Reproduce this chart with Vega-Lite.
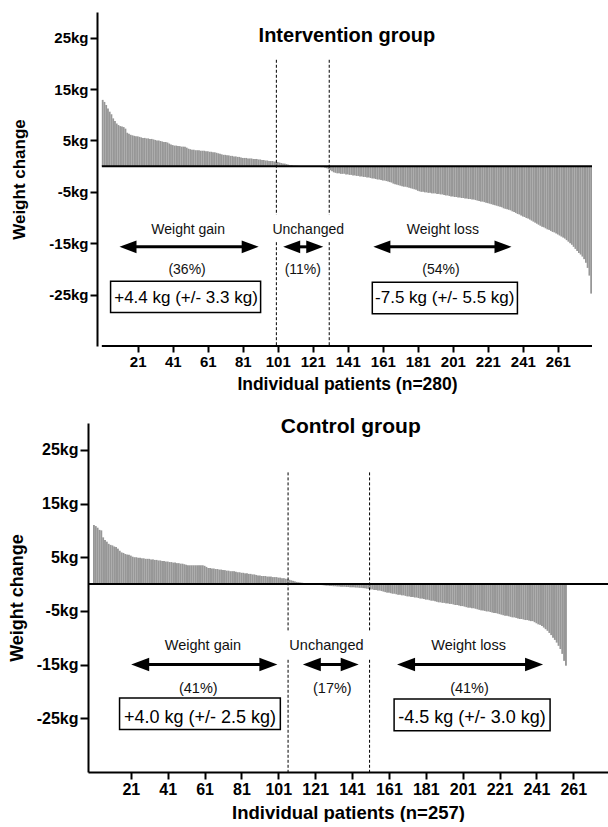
{
"$schema": "https://vega.github.io/schema/vega-lite/v6.json",
"padding": {"left": 8, "top": 12, "right": 0, "bottom": 0},
"spacing": 22,
"config": {"font": "Liberation Sans", "view": {"stroke": null},
 "axis": {"grid": false, "domainColor": "black", "tickColor": "black", "labelColor": "black", "titleColor": "black", "labelFontWeight": "bold", "titleFontWeight": "bold", "domainWidth": 2, "tickWidth": 2, "labelFont": "Liberation Sans", "titleFont": "Liberation Sans"}},
"datasets": {
"top": [{"p":1,"v":12.9},{"p":2,"v":12.5},{"p":3,"v":11.9},{"p":4,"v":11.2},{"p":5,"v":10.6},{"p":6,"v":10.1},{"p":7,"v":9.3},{"p":8,"v":8.8},{"p":9,"v":8.3},{"p":10,"v":8.0},
{"p":11,"v":7.8},{"p":12,"v":7.7},{"p":13,"v":7.6},{"p":14,"v":7.3},{"p":15,"v":6.5},{"p":16,"v":6.3},{"p":17,"v":6.1},{"p":18,"v":6.0},{"p":19,"v":5.9},{"p":20,"v":5.8},
{"p":21,"v":5.8},{"p":22,"v":5.7},{"p":23,"v":5.6},{"p":24,"v":5.5},{"p":25,"v":5.5},{"p":26,"v":5.4},{"p":27,"v":5.4},{"p":28,"v":5.3},{"p":29,"v":5.3},{"p":30,"v":5.2},
{"p":31,"v":5.1},{"p":32,"v":5.0},{"p":33,"v":5.0},{"p":34,"v":4.9},{"p":35,"v":4.8},{"p":36,"v":4.7},{"p":37,"v":4.7},{"p":38,"v":4.6},{"p":39,"v":4.4},{"p":40,"v":4.2},
{"p":41,"v":4.1},{"p":42,"v":4.0},{"p":43,"v":4.0},{"p":44,"v":3.9},{"p":45,"v":3.9},{"p":46,"v":3.8},{"p":47,"v":3.8},{"p":48,"v":3.8},{"p":49,"v":3.6},{"p":50,"v":3.4},
{"p":51,"v":3.3},{"p":52,"v":3.2},{"p":53,"v":3.2},{"p":54,"v":3.1},{"p":55,"v":3.1},{"p":56,"v":3.1},{"p":57,"v":3.0},{"p":58,"v":3.0},{"p":59,"v":3.0},{"p":60,"v":2.9},
{"p":61,"v":2.9},{"p":62,"v":2.8},{"p":63,"v":2.8},{"p":64,"v":2.7},{"p":65,"v":2.7},{"p":66,"v":2.6},{"p":67,"v":2.5},{"p":68,"v":2.4},{"p":69,"v":2.3},{"p":70,"v":2.2},
{"p":71,"v":2.2},{"p":72,"v":2.1},{"p":73,"v":2.1},{"p":74,"v":2.0},{"p":75,"v":2.0},{"p":76,"v":1.9},{"p":77,"v":1.9},{"p":78,"v":1.8},{"p":79,"v":1.8},{"p":80,"v":1.7},
{"p":81,"v":1.6},{"p":82,"v":1.6},{"p":83,"v":1.6},{"p":84,"v":1.5},{"p":85,"v":1.5},{"p":86,"v":1.5},{"p":87,"v":1.4},{"p":88,"v":1.4},{"p":89,"v":1.4},{"p":90,"v":1.3},
{"p":91,"v":1.3},{"p":92,"v":1.2},{"p":93,"v":1.2},{"p":94,"v":1.1},{"p":95,"v":1.1},{"p":96,"v":1.0},{"p":97,"v":1.0},{"p":98,"v":1.0},{"p":99,"v":0.9},{"p":100,"v":0.9},
{"p":101,"v":0.8},{"p":102,"v":0.7},{"p":103,"v":0.6},{"p":104,"v":0.5},{"p":105,"v":0.5},{"p":106,"v":0.4},{"p":107,"v":0.3},{"p":108,"v":0.2},{"p":109,"v":0.2},{"p":110,"v":0.1},
{"p":111,"v":0.1},{"p":112,"v":0.1},{"p":113,"v":0.05},{"p":114,"v":0},{"p":115,"v":0},{"p":116,"v":0},{"p":117,"v":0},{"p":118,"v":0},{"p":119,"v":0},{"p":120,"v":0},
{"p":121,"v":0},{"p":122,"v":0},{"p":123,"v":-0.05},{"p":124,"v":-0.1},{"p":125,"v":-0.1},{"p":126,"v":-0.2},{"p":127,"v":-0.2},{"p":128,"v":-0.3},{"p":129,"v":-0.4},{"p":130,"v":-0.6},
{"p":131,"v":-0.8},{"p":132,"v":-1.0},{"p":133,"v":-1.2},{"p":134,"v":-1.3},{"p":135,"v":-1.4},{"p":136,"v":-1.4},{"p":137,"v":-1.5},{"p":138,"v":-1.5},{"p":139,"v":-1.5},{"p":140,"v":-1.6},
{"p":141,"v":-1.6},{"p":142,"v":-1.7},{"p":143,"v":-1.7},{"p":144,"v":-1.8},{"p":145,"v":-1.8},{"p":146,"v":-1.9},{"p":147,"v":-1.9},{"p":148,"v":-2.0},{"p":149,"v":-2.0},{"p":150,"v":-2.1},
{"p":151,"v":-2.1},{"p":152,"v":-2.2},{"p":153,"v":-2.2},{"p":154,"v":-2.3},{"p":155,"v":-2.4},{"p":156,"v":-2.4},{"p":157,"v":-2.5},{"p":158,"v":-2.6},{"p":159,"v":-2.6},{"p":160,"v":-2.7},
{"p":161,"v":-2.8},{"p":162,"v":-2.8},{"p":163,"v":-2.9},{"p":164,"v":-3.0},{"p":165,"v":-3.1},{"p":166,"v":-3.2},{"p":167,"v":-3.4},{"p":168,"v":-3.5},{"p":169,"v":-3.6},{"p":170,"v":-3.7},
{"p":171,"v":-3.8},{"p":172,"v":-3.9},{"p":173,"v":-4.0},{"p":174,"v":-4.0},{"p":175,"v":-4.1},{"p":176,"v":-4.2},{"p":177,"v":-4.3},{"p":178,"v":-4.4},{"p":179,"v":-4.5},{"p":180,"v":-4.6},
{"p":181,"v":-4.8},{"p":182,"v":-4.9},{"p":183,"v":-5.0},{"p":184,"v":-5.0},{"p":185,"v":-5.1},{"p":186,"v":-5.1},{"p":187,"v":-5.2},{"p":188,"v":-5.2},{"p":189,"v":-5.3},{"p":190,"v":-5.3},
{"p":191,"v":-5.3},{"p":192,"v":-5.4},{"p":193,"v":-5.4},{"p":194,"v":-5.5},{"p":195,"v":-5.5},{"p":196,"v":-5.6},{"p":197,"v":-5.7},{"p":198,"v":-5.7},{"p":199,"v":-5.8},{"p":200,"v":-5.9},
{"p":201,"v":-5.9},{"p":202,"v":-6.0},{"p":203,"v":-6.0},{"p":204,"v":-6.1},{"p":205,"v":-6.1},{"p":206,"v":-6.2},{"p":207,"v":-6.2},{"p":208,"v":-6.3},{"p":209,"v":-6.3},{"p":210,"v":-6.4},
{"p":211,"v":-6.4},{"p":212,"v":-6.5},{"p":213,"v":-6.5},{"p":214,"v":-6.6},{"p":215,"v":-6.7},{"p":216,"v":-6.8},{"p":217,"v":-6.9},{"p":218,"v":-6.9},{"p":219,"v":-7.0},{"p":220,"v":-7.1},
{"p":221,"v":-7.2},{"p":222,"v":-7.3},{"p":223,"v":-7.4},{"p":224,"v":-7.5},{"p":225,"v":-7.6},{"p":226,"v":-7.7},{"p":227,"v":-7.8},{"p":228,"v":-7.9},{"p":229,"v":-8.0},{"p":230,"v":-8.2},
{"p":231,"v":-8.3},{"p":232,"v":-8.4},{"p":233,"v":-8.5},{"p":234,"v":-8.6},{"p":235,"v":-8.8},{"p":236,"v":-8.9},{"p":237,"v":-9.1},{"p":238,"v":-9.3},{"p":239,"v":-9.4},{"p":240,"v":-9.6},
{"p":241,"v":-9.8},{"p":242,"v":-9.9},{"p":243,"v":-10.1},{"p":244,"v":-10.2},{"p":245,"v":-10.4},{"p":246,"v":-10.6},{"p":247,"v":-10.8},{"p":248,"v":-11.0},{"p":249,"v":-11.2},{"p":250,"v":-11.4},
{"p":251,"v":-11.6},{"p":252,"v":-11.8},{"p":253,"v":-11.9},{"p":254,"v":-12.1},{"p":255,"v":-12.3},{"p":256,"v":-12.4},{"p":257,"v":-12.6},{"p":258,"v":-12.8},{"p":259,"v":-12.9},{"p":260,"v":-13.1},
{"p":261,"v":-13.3},{"p":262,"v":-13.5},{"p":263,"v":-13.7},{"p":264,"v":-13.9},{"p":265,"v":-14.1},{"p":266,"v":-14.4},{"p":267,"v":-14.7},{"p":268,"v":-15.0},{"p":269,"v":-15.3},{"p":270,"v":-15.7},
{"p":271,"v":-16.1},{"p":272,"v":-16.5},{"p":273,"v":-16.9},{"p":274,"v":-17.2},{"p":275,"v":-17.6},{"p":276,"v":-18.1},{"p":277,"v":-18.8},{"p":278,"v":-19.8},{"p":279,"v":-21.3},{"p":280,"v":-24.8}],
"bot": [{"p":1,"v":11.0},{"p":2,"v":10.8},{"p":3,"v":10.5},{"p":4,"v":10.1},{"p":5,"v":10.0},{"p":6,"v":8.7},{"p":7,"v":8.2},{"p":8,"v":7.9},{"p":9,"v":7.5},{"p":10,"v":7.3},
{"p":11,"v":7.2},{"p":12,"v":7.0},{"p":13,"v":6.9},{"p":14,"v":6.6},{"p":15,"v":6.2},{"p":16,"v":5.9},{"p":17,"v":5.8},{"p":18,"v":5.6},{"p":19,"v":5.5},{"p":20,"v":5.45},
{"p":21,"v":5.3},{"p":22,"v":5.1},{"p":23,"v":5.0},{"p":24,"v":5.0},{"p":25,"v":4.9},{"p":26,"v":4.9},{"p":27,"v":4.8},{"p":28,"v":4.8},{"p":29,"v":4.7},{"p":30,"v":4.7},
{"p":31,"v":4.7},{"p":32,"v":4.6},{"p":33,"v":4.6},{"p":34,"v":4.5},{"p":35,"v":4.5},{"p":36,"v":4.4},{"p":37,"v":4.4},{"p":38,"v":4.3},{"p":39,"v":4.3},{"p":40,"v":4.2},
{"p":41,"v":4.2},{"p":42,"v":4.1},{"p":43,"v":4.1},{"p":44,"v":4.0},{"p":45,"v":4.0},{"p":46,"v":3.9},{"p":47,"v":3.9},{"p":48,"v":3.8},{"p":49,"v":3.8},{"p":50,"v":3.7},
{"p":51,"v":3.6},{"p":52,"v":3.5},{"p":53,"v":3.5},{"p":54,"v":3.5},{"p":55,"v":3.5},{"p":56,"v":3.5},{"p":57,"v":3.5},{"p":58,"v":3.5},{"p":59,"v":3.5},{"p":60,"v":3.5},
{"p":61,"v":3.4},{"p":62,"v":3.2},{"p":63,"v":3.0},{"p":64,"v":3.0},{"p":65,"v":2.9},{"p":66,"v":2.9},{"p":67,"v":2.8},{"p":68,"v":2.8},{"p":69,"v":2.7},{"p":70,"v":2.7},
{"p":71,"v":2.6},{"p":72,"v":2.6},{"p":73,"v":2.5},{"p":74,"v":2.5},{"p":75,"v":2.4},{"p":76,"v":2.4},{"p":77,"v":2.4},{"p":78,"v":2.3},{"p":79,"v":2.2},{"p":80,"v":2.2},
{"p":81,"v":2.1},{"p":82,"v":2.1},{"p":83,"v":2.0},{"p":84,"v":2.0},{"p":85,"v":1.9},{"p":86,"v":1.9},{"p":87,"v":1.8},{"p":88,"v":1.8},{"p":89,"v":1.7},{"p":90,"v":1.6},
{"p":91,"v":1.6},{"p":92,"v":1.5},{"p":93,"v":1.5},{"p":94,"v":1.5},{"p":95,"v":1.4},{"p":96,"v":1.4},{"p":97,"v":1.4},{"p":98,"v":1.3},{"p":99,"v":1.3},{"p":100,"v":1.3},
{"p":101,"v":1.2},{"p":102,"v":1.2},{"p":103,"v":1.1},{"p":104,"v":1.1},{"p":105,"v":1.0},{"p":106,"v":0.9},{"p":107,"v":0.8},{"p":108,"v":0.7},{"p":109,"v":0.6},{"p":110,"v":0.5},
{"p":111,"v":0.4},{"p":112,"v":0.35},{"p":113,"v":0.3},{"p":114,"v":0.25},{"p":115,"v":0.2},{"p":116,"v":0.15},{"p":117,"v":0.1},{"p":118,"v":0.05},{"p":119,"v":0},{"p":120,"v":0},
{"p":121,"v":0},{"p":122,"v":-0.05},{"p":123,"v":-0.1},{"p":124,"v":-0.15},{"p":125,"v":-0.2},{"p":126,"v":-0.25},{"p":127,"v":-0.3},{"p":128,"v":-0.3},{"p":129,"v":-0.35},{"p":130,"v":-0.35},
{"p":131,"v":-0.4},{"p":132,"v":-0.4},{"p":133,"v":-0.45},{"p":134,"v":-0.45},{"p":135,"v":-0.5},{"p":136,"v":-0.5},{"p":137,"v":-0.5},{"p":138,"v":-0.55},{"p":139,"v":-0.55},{"p":140,"v":-0.6},
{"p":141,"v":-0.6},{"p":142,"v":-0.6},{"p":143,"v":-0.65},{"p":144,"v":-0.65},{"p":145,"v":-0.7},{"p":146,"v":-0.7},{"p":147,"v":-0.75},{"p":148,"v":-0.8},{"p":149,"v":-0.85},{"p":150,"v":-0.9},
{"p":151,"v":-1.0},{"p":152,"v":-1.0},{"p":153,"v":-1.1},{"p":154,"v":-1.1},{"p":155,"v":-1.2},{"p":156,"v":-1.2},{"p":157,"v":-1.3},{"p":158,"v":-1.4},{"p":159,"v":-1.5},{"p":160,"v":-1.6},
{"p":161,"v":-1.6},{"p":162,"v":-1.7},{"p":163,"v":-1.8},{"p":164,"v":-1.8},{"p":165,"v":-1.9},{"p":166,"v":-2.0},{"p":167,"v":-2.0},{"p":168,"v":-2.1},{"p":169,"v":-2.1},{"p":170,"v":-2.2},
{"p":171,"v":-2.3},{"p":172,"v":-2.3},{"p":173,"v":-2.4},{"p":174,"v":-2.4},{"p":175,"v":-2.5},{"p":176,"v":-2.5},{"p":177,"v":-2.6},{"p":178,"v":-2.7},{"p":179,"v":-2.7},{"p":180,"v":-2.8},
{"p":181,"v":-2.9},{"p":182,"v":-2.9},{"p":183,"v":-3.0},{"p":184,"v":-3.1},{"p":185,"v":-3.1},{"p":186,"v":-3.2},{"p":187,"v":-3.3},{"p":188,"v":-3.4},{"p":189,"v":-3.4},{"p":190,"v":-3.5},
{"p":191,"v":-3.5},{"p":192,"v":-3.6},{"p":193,"v":-3.6},{"p":194,"v":-3.7},{"p":195,"v":-3.7},{"p":196,"v":-3.8},{"p":197,"v":-3.9},{"p":198,"v":-3.9},{"p":199,"v":-4.0},{"p":200,"v":-4.1},
{"p":201,"v":-4.1},{"p":202,"v":-4.2},{"p":203,"v":-4.3},{"p":204,"v":-4.4},{"p":205,"v":-4.4},{"p":206,"v":-4.5},{"p":207,"v":-4.5},{"p":208,"v":-4.6},{"p":209,"v":-4.7},{"p":210,"v":-4.8},
{"p":211,"v":-4.9},{"p":212,"v":-4.9},{"p":213,"v":-5.0},{"p":214,"v":-5.1},{"p":215,"v":-5.1},{"p":216,"v":-5.2},{"p":217,"v":-5.3},{"p":218,"v":-5.4},{"p":219,"v":-5.4},{"p":220,"v":-5.5},
{"p":221,"v":-5.6},{"p":222,"v":-5.7},{"p":223,"v":-5.8},{"p":224,"v":-5.9},{"p":225,"v":-5.9},{"p":226,"v":-6.0},{"p":227,"v":-6.1},{"p":228,"v":-6.2},{"p":229,"v":-6.2},{"p":230,"v":-6.3},
{"p":231,"v":-6.4},{"p":232,"v":-6.5},{"p":233,"v":-6.5},{"p":234,"v":-6.6},{"p":235,"v":-6.7},{"p":236,"v":-6.7},{"p":237,"v":-6.8},{"p":238,"v":-6.9},{"p":239,"v":-6.9},{"p":240,"v":-7.1},
{"p":241,"v":-7.3},{"p":242,"v":-7.5},{"p":243,"v":-7.6},{"p":244,"v":-7.8},{"p":245,"v":-8.1},{"p":246,"v":-8.4},{"p":247,"v":-8.7},{"p":248,"v":-9.1},{"p":249,"v":-9.5},{"p":250,"v":-10.0},
{"p":251,"v":-10.4},{"p":252,"v":-10.9},{"p":253,"v":-11.5},{"p":254,"v":-12.1},{"p":255,"v":-13.0},{"p":256,"v":-14.3},{"p":257,"v":-15.2}],
"topDash": [{"x":100.2,"y":20.7,"y2":-9.5},{"x":100.2,"y":-14.8,"y2":-35},{"x":130.4,"y":20.7,"y2":-9.5},{"x":130.4,"y":-14.8,"y2":-35}],
"topShaft": [{"x":15.1,"x2":85.6,"y":-15.7},{"x":108.6,"x2":122.5,"y":-15.7},{"x":160.1,"x2":230.0,"y":-15.7}],
"topHead": [{"x":10.6,"y":-15.7,"d":"L"},{"x":90.1,"y":-15.7,"d":"R"},{"x":104.1,"y":-15.7,"d":"L"},{"x":127,"y":-15.7,"d":"R"},{"x":155.6,"y":-15.7,"d":"L"},{"x":234.5,"y":-15.7,"d":"R"}],
"topBox": [{"x":5.5,"x2":91.2,"y":-22.4,"y2":-28.5},{"x":155,"x2":237.9,"y":-22.6,"y2":-28.7}],
"topLab": [{"x":49.8,"y":-13.16,"t":"Weight gain"},{"x":118.4,"y":-13.16,"t":"Unchanged"},{"x":195.3,"y":-13.16,"t":"Weight loss"},{"x":49.2,"y":-20.9,"t":"(36%)"},{"x":115.3,"y":-20.9,"t":"(11%)"},{"x":194.2,"y":-20.9,"t":"(54%)"}],
"topBoxText": [{"x":48.6,"y":-26.6,"t":"+4.4 kg (+/- 3.3 kg)"},{"x":196.4,"y":-26.6,"t":"-7.5 kg (+/- 5.5 kg)"}],
"topTitle": [{"x":140.5,"y":24.2,"t":"Intervention group"}],
"topLines": [{"x":0.5,"x2":280.5,"y":0},{"x":0.5,"x2":280.5,"y":-35}],
"botDash": [{"x":106.3,"y":20.8,"y2":-8.7},{"x":106.3,"y":-14.1,"y2":-35},{"x":150.5,"y":20.8,"y2":-8.7},{"x":150.5,"y":-14.1,"y2":-35}],
"botShaft": [{"x":25.7,"x2":96.0,"y":-15.0},{"x":118.8,"x2":140.1,"y":-15.0},{"x":169.9,"x2":240.1,"y":-15.0}],
"botHead": [{"x":21.2,"y":-15.0,"d":"L"},{"x":100.5,"y":-15.0,"d":"R"},{"x":114.3,"y":-15.0,"d":"L"},{"x":144.6,"y":-15.0,"d":"R"},{"x":165.4,"y":-15.0,"d":"L"},{"x":244.6,"y":-15.0,"d":"R"}],
"botBox": [{"x":14.9,"x2":102.1,"y":-21.2,"y2":-27.1},{"x":163.8,"x2":248.4,"y":-21.4,"y2":-27.3}],
"botLab": [{"x":60.1,"y":-12.3,"t":"Weight gain"},{"x":127.1,"y":-12.3,"t":"Unchanged"},{"x":204.2,"y":-12.3,"t":"Weight loss"},{"x":57.6,"y":-20.3,"t":"(41%)"},{"x":130.3,"y":-20.3,"t":"(17%)"},{"x":204.7,"y":-20.3,"t":"(41%)"}],
"botBoxText": [{"x":58.5,"y":-25.8,"t":"+4.0 kg (+/- 2.5 kg)"},{"x":206.1,"y":-25.8,"t":"-4.5 kg (+/- 3.0 kg)"}],
"botTitle": [{"x":140.3,"y":28.2,"t":"Control group"}],
"zero": [{"y":0}]
},
"vconcat": [
{"width": 509, "height": 334,
 "layer": [
  {"data": {"name": "top"}, "mark": {"type": "bar", "width": 1.8, "color": "#979797"},
   "encoding": {
    "x": {"field": "p", "type": "quantitative", "scale": {"domain": [-4.54, 280.5], "nice": false, "zero": false},
      "axis": {"values": [21,41,61,81,101,121,141,161,181,201,221,241,261], "title": "Individual patients (n=280)", "domain": false, "labelFontSize": 15, "tickSize": 6, "labelPadding": 2, "titleFontSize": 17.5, "titlePadding": 6, "titleX": 259}},
    "y": {"field": "v", "type": "quantitative", "scale": {"domain": [-35, 30], "nice": false},
      "axis": {"values": [-25,-15,-5,5,15,25], "labelExpr": "datum.value + 'kg'", "title": "Weight change", "offset": -9, "labelFontSize": 15, "tickSize": 7, "labelPadding": 2, "titleFontSize": 17, "titlePadding": 20}}}},
  {"data": {"name": "topLines"}, "mark": {"type": "rule", "color": "black", "strokeWidth": 2},
   "encoding": {"x": {"field": "x", "type": "quantitative"}, "x2": {"field": "x2"}, "y": {"field": "y", "type": "quantitative"}}},
  {"data": {"name": "topDash"}, "mark": {"type": "rule", "color": "black", "strokeWidth": 1, "strokeDash": [3, 2]},
   "encoding": {"x": {"field": "x", "type": "quantitative"}, "y": {"field": "y", "type": "quantitative"}, "y2": {"field": "y2"}}},
  {"data": {"name": "topShaft"}, "mark": {"type": "rule", "color": "black", "strokeWidth": 3},
   "encoding": {"x": {"field": "x", "type": "quantitative"}, "x2": {"field": "x2"}, "y": {"field": "y", "type": "quantitative"}}},
  {"data": {"name": "topHead"}, "mark": {"type": "point", "filled": true, "color": "black", "opacity": 1, "size": 289, "strokeWidth": 0},
   "encoding": {"x": {"field": "x", "type": "quantitative"}, "y": {"field": "y", "type": "quantitative"},
    "shape": {"field": "d", "type": "nominal", "scale": {"domain": ["L", "R"], "range": ["M0,0L2,-0.75L2,0.75Z", "M0,0L-2,-0.75L-2,0.75Z"]}, "legend": null}}},
  {"data": {"name": "topBox"}, "mark": {"type": "rect", "fill": "white", "stroke": "black", "strokeWidth": 1.5},
   "encoding": {"x": {"field": "x", "type": "quantitative"}, "x2": {"field": "x2"}, "y": {"field": "y", "type": "quantitative"}, "y2": {"field": "y2"}}},
  {"data": {"name": "topLab"}, "mark": {"type": "text", "fontSize": 14, "color": "#111", "baseline": "alphabetic", "align": "center"},
   "encoding": {"x": {"field": "x", "type": "quantitative"}, "y": {"field": "y", "type": "quantitative"}, "text": {"field": "t"}}},
  {"data": {"name": "topBoxText"}, "mark": {"type": "text", "fontSize": 17, "color": "black", "baseline": "alphabetic", "align": "center"},
   "encoding": {"x": {"field": "x", "type": "quantitative"}, "y": {"field": "y", "type": "quantitative"}, "text": {"field": "t"}}},
  {"data": {"name": "topTitle"}, "mark": {"type": "text", "fontSize": 20, "fontWeight": "bold", "color": "black", "baseline": "alphabetic", "align": "center"},
   "encoding": {"x": {"field": "x", "type": "quantitative"}, "y": {"field": "y", "type": "quantitative"}, "text": {"field": "t"}}}
 ]},
{"width": 520, "height": 349,
 "layer": [
  {"data": {"name": "bot"}, "mark": {"type": "bar", "width": 1.9, "color": "#979797"},
   "encoding": {
    "x": {"field": "p", "type": "quantitative", "scale": {"domain": [0.5, 277.1], "nice": false, "zero": false},
      "axis": {"values": [21,41,61,81,101,121,141,161,181,201,221,241,261], "title": "Individual patients (n=257)", "labelFontSize": 16, "tickSize": 7, "labelPadding": 2, "titleFontSize": 18.5, "titlePadding": 6}},
    "y": {"field": "v", "type": "quantitative", "scale": {"domain": [-35, 30], "nice": false},
      "axis": {"values": [-25,-15,-5,5,15,25], "labelExpr": "datum.value + 'kg'", "title": "Weight change", "labelFontSize": 16, "tickSize": 8, "labelPadding": 2, "titleFontSize": 18, "titlePadding": 10}}}},
  {"data": {"name": "zero"}, "mark": {"type": "rule", "color": "black", "strokeWidth": 2}, "encoding": {"y": {"field": "y", "type": "quantitative"}}},
  {"data": {"name": "botDash"}, "mark": {"type": "rule", "color": "black", "strokeWidth": 1, "strokeDash": [3, 2]},
   "encoding": {"x": {"field": "x", "type": "quantitative"}, "y": {"field": "y", "type": "quantitative"}, "y2": {"field": "y2"}}},
  {"data": {"name": "botShaft"}, "mark": {"type": "rule", "color": "black", "strokeWidth": 3},
   "encoding": {"x": {"field": "x", "type": "quantitative"}, "x2": {"field": "x2"}, "y": {"field": "y", "type": "quantitative"}}},
  {"data": {"name": "botHead"}, "mark": {"type": "point", "filled": true, "color": "black", "opacity": 1, "size": 324, "strokeWidth": 0},
   "encoding": {"x": {"field": "x", "type": "quantitative"}, "y": {"field": "y", "type": "quantitative"},
    "shape": {"field": "d", "type": "nominal", "scale": {"domain": ["L", "R"], "range": ["M0,0L2,-0.75L2,0.75Z", "M0,0L-2,-0.75L-2,0.75Z"]}, "legend": null}}},
  {"data": {"name": "botBox"}, "mark": {"type": "rect", "fill": "white", "stroke": "black", "strokeWidth": 1.5},
   "encoding": {"x": {"field": "x", "type": "quantitative"}, "x2": {"field": "x2"}, "y": {"field": "y", "type": "quantitative"}, "y2": {"field": "y2"}}},
  {"data": {"name": "botLab"}, "mark": {"type": "text", "fontSize": 14.5, "color": "#111", "baseline": "alphabetic", "align": "center"},
   "encoding": {"x": {"field": "x", "type": "quantitative"}, "y": {"field": "y", "type": "quantitative"}, "text": {"field": "t"}}},
  {"data": {"name": "botBoxText"}, "mark": {"type": "text", "fontSize": 18, "color": "black", "baseline": "alphabetic", "align": "center"},
   "encoding": {"x": {"field": "x", "type": "quantitative"}, "y": {"field": "y", "type": "quantitative"}, "text": {"field": "t"}}},
  {"data": {"name": "botTitle"}, "mark": {"type": "text", "fontSize": 21, "fontWeight": "bold", "color": "black", "baseline": "alphabetic", "align": "center"},
   "encoding": {"x": {"field": "x", "type": "quantitative"}, "y": {"field": "y", "type": "quantitative"}, "text": {"field": "t"}}}
 ]}
]
}
